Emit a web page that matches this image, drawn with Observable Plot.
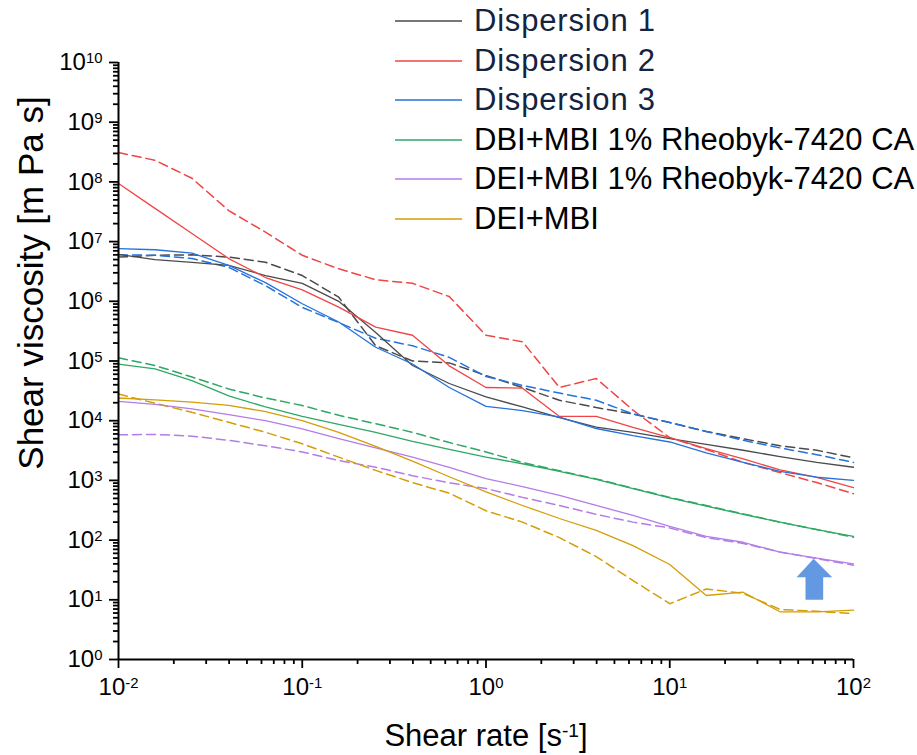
<!DOCTYPE html>
<html><head><meta charset="utf-8">
<script src="https://cdn.jsdelivr.net/npm/d3@7"></script>
<script src="https://cdn.jsdelivr.net/npm/@observablehq/plot@0.6"></script>
<style>
body{margin:0;background:#fff;font-family:Arial,"Liberation Sans",sans-serif}
#wrap{position:relative;width:917px;height:755px;overflow:hidden}
#legend{position:absolute;left:0;top:0}
.item{position:absolute;left:395px;display:flex;align-items:center;white-space:nowrap;height:36px}
.swatch{width:67px;height:2px;margin-right:12px;opacity:0.75}
.label{font-size:31px;line-height:36px}
</style></head><body>
<div id="wrap"><div id="chart"></div><div id="legend"></div></div>
<script>
// shear rate [1/s]
const shearRate = [0.01, 0.0158, 0.0251, 0.0398, 0.0631, 0.1, 0.158, 0.251, 0.398, 0.631, 1, 1.58, 2.51, 3.98, 6.31, 10, 15.8, 25.1, 39.8, 63.1, 100];

const seriesNames = ["Dispersion 1", "Dispersion 2", "Dispersion 3", "DBI+MBI 1% Rheobyk-7420 CA", "DEI+MBI 1% Rheobyk-7420 CA", "DEI+MBI"];
const seriesColors = ["#4a4a4a", "#f04545", "#2472dc", "#2ea864", "#b47ce6", "#d39e08"];
const legendTextColors = ["#14233f", "#14233f", "#14233f", "#000000", "#000000", "#000000"];

// viscosity [mPa s], solid curves
const disp1Solid = [6.1e6, 5.0e6, 4.5e6, 4.0e6, 2.7e6, 2.0e6, 1.0e6, 3.0e5, 8.4e4, 4.2e4, 2.5e4, 1.7e4, 1.13e4, 7.8e3, 6.4e3, 5.0e3, 4.0e3, 3.2e3, 2.5e3, 2.0e3, 1.66e3];
const disp2Solid = [9.4e7, 3.6e7, 1.37e7, 5.2e6, 2.5e6, 1.55e6, 8.0e5, 3.7e5, 2.7e5, 8.3e4, 3.6e4, 3.5e4, 1.18e4, 1.18e4, 7.7e3, 5.2e3, 3.4e3, 2.3e3, 1.5e3, 1.12e3, 7.6e2];
const disp3Solid = [7.6e6, 7.3e6, 6.4e6, 4.0e6, 2.05e6, 9.1e5, 4.5e5, 1.7e5, 8.9e4, 3.6e4, 1.74e4, 1.48e4, 1.15e4, 7.4e3, 5.6e3, 4.4e3, 2.9e3, 2.0e3, 1.42e3, 1.13e3, 1.0e3];
const dbiRheoSolid = [8.9e4, 7.4e4, 4.7e4, 2.6e4, 1.7e4, 1.18e4, 8.7e3, 6.4e3, 4.5e3, 3.3e3, 2.45e3, 1.9e3, 1.42e3, 1.04e3, 7.3e2, 5.1e2, 3.7e2, 2.7e2, 2.0e2, 1.5e2, 1.15e2];
const deiRheoSolid = [2.1e4, 1.87e4, 1.58e4, 1.26e4, 1.0e4, 7.3e3, 5.0e3, 3.5e3, 2.45e3, 1.66e3, 1.07e3, 7.9e2, 5.6e2, 3.8e2, 2.6e2, 1.7e2, 1.15e2, 92, 63, 50, 40];
const deiSolid = [2.4e4, 2.24e4, 2.04e4, 1.8e4, 1.42e4, 1.0e4, 6.4e3, 3.7e3, 2.1e3, 1.15e3, 6.4e2, 3.8e2, 2.3e2, 1.45e2, 81, 39, 11.8, 13.4, 6.3, 6.3, 6.7];

// viscosity [mPa s], dashed curves
const disp1Dashed = [5.5e6, 5.9e6, 6.0e6, 5.5e6, 4.5e6, 2.7e6, 1.17e6, 1.8e5, 1.0e5, 9.3e4, 5.7e4, 3.6e4, 2.2e4, 1.66e4, 1.3e4, 9.3e3, 6.6e3, 5.0e3, 3.8e3, 3.2e3, 2.4e3];
const disp2Dashed = [3.1e8, 2.3e8, 1.15e8, 3.3e7, 1.44e7, 5.9e6, 3.5e6, 2.3e6, 2.0e6, 1.2e6, 2.7e5, 2.1e5, 3.6e4, 5.1e4, 1.5e4, 5.2e3, 3.3e3, 2.0e3, 1.35e3, 9.2e2, 6.0e2];
const disp3Dashed = [6.0e6, 5.9e6, 5.2e6, 3.7e6, 1.83e6, 7.9e5, 4.4e5, 2.4e5, 1.8e5, 1.15e5, 5.5e4, 3.9e4, 2.9e4, 2.2e4, 1.3e4, 9.3e3, 6.6e3, 4.7e3, 3.5e3, 2.7e3, 2.0e3];
const dbiRheoDashed = [1.13e5, 8.4e4, 5.4e4, 3.4e4, 2.4e4, 1.8e4, 1.23e4, 8.9e3, 6.4e3, 4.3e3, 3.0e3, 2.0e3, 1.45e3, 1.06e3, 7.4e2, 5.2e2, 3.8e2, 2.75e2, 2.0e2, 1.5e2, 1.12e2];
const deiRheoDashed = [5.8e3, 5.9e3, 5.5e3, 4.7e3, 3.8e3, 3.0e3, 2.15e3, 1.66e3, 1.2e3, 9.1e2, 7.3e2, 5.2e2, 3.8e2, 2.7e2, 2.0e2, 1.6e2, 1.1e2, 88, 63, 49, 38];
const deiDashed = [2.8e4, 1.96e4, 1.38e4, 9.4e3, 6.4e3, 4.1e3, 2.45e3, 1.47e3, 9.2e2, 6.1e2, 3.1e2, 2.0e2, 1.1e2, 53, 21, 8.6, 15.2, 12.8, 6.9, 6.4, 5.9];

const solidSets = [disp1Solid, disp2Solid, disp3Solid, dbiRheoSolid, deiRheoSolid, deiSolid];
const dashedSets = [disp1Dashed, disp2Dashed, disp3Dashed, dbiRheoDashed, deiRheoDashed, deiDashed];

// tick values
const xMajorTicks = [0.01, 0.1, 1, 10, 100];
const yMajorTicks = [1, 10, 100, 1e3, 1e4, 1e5, 1e6, 1e7, 1e8, 1e9, 1e10];

// axis titles
const yTitle = "Shear viscosity [m Pa s]";
const xTitle = "Shear rate [s^-1]";

// blue arrow annotation (data units)
const arrowX = [54.8, 54.8, 49.0, 60.7, 76.6, 68.4, 68.4];
const arrowY = [10, 23.9, 23.9, 48.6, 23.9, 23.9, 10];

function rows(sets) {
  const out = [];
  sets.forEach((vals, s) => vals.forEach((v, i) => out.push({series: seriesNames[s], x: shearRate[i], y: v})));
  return out;
}
const solidRows = rows(solidSets);
const dashedRows = rows(dashedSets);
const arrowRows = arrowX.map((x, i) => ({x, y: arrowY[i]}));

const minorX = [];
for (let k = -2; k < 2; k++) for (let m = 2; m <= 9; m++) minorX.push(m * Math.pow(10, k));
const minorY = [];
for (let k = 0; k < 10; k++) for (let m = 2; m <= 9; m++) minorY.push(m * Math.pow(10, k));

const fmt = d => "10^" + Math.round(Math.log10(d));

const chart = Plot.plot({
  width: 917, height: 755,
  marginLeft: 118, marginRight: 64, marginTop: 62, marginBottom: 96,
  style: {fontFamily: "Arial, 'Liberation Sans', sans-serif", background: "#fff", color: "#000"},
  x: {type: "log", domain: [0.01, 100]},
  y: {type: "log", domain: [1, 1e10]},
  color: {domain: seriesNames, range: seriesColors},
  marks: [
    Plot.line(dashedRows, {x: "x", y: "y", z: "series", stroke: "series", strokeWidth: 1.5, strokeDasharray: "9,5"}),
    Plot.line(solidRows, {x: "x", y: "y", z: "series", stroke: "series", strokeWidth: 1.3}),
    Plot.line(arrowRows, {x: "x", y: "y", fill: "#6399e3", stroke: "none"}),
    Plot.axisX({ticks: minorX, tickSize: 5, tickFormat: () => "", strokeWidth: 1.8, label: null}),
    Plot.axisY({ticks: minorY, tickSize: 5, tickFormat: () => "", strokeWidth: 1.8, label: null}),
    Plot.axisX({ticks: xMajorTicks, tickSize: 9, tickPadding: 9, tickFormat: fmt, fontSize: 24, strokeWidth: 1.8, label: null}),
    Plot.axisY({ticks: yMajorTicks, tickSize: 9, tickPadding: 7, tickFormat: fmt, fontSize: 24, strokeWidth: 1.8, label: null}),
    Plot.ruleX([0.01], {stroke: "#000", strokeWidth: 2}),
    Plot.ruleY([1], {stroke: "#000", strokeWidth: 2}),
    Plot.text([yTitle], {frameAnchor: "left", textAnchor: "middle", dx: -87, dy: -78, rotate: -90, fontSize: 35, fill: "#000"}),
    Plot.text([xTitle], {frameAnchor: "bottom", textAnchor: "middle", dy: 86, fontSize: 31, fill: "#000"})
  ]
});
document.getElementById("chart").append(chart);

// superscript exponents
const NS = "http://www.w3.org/2000/svg";
function supify(t) {
  const m = t.textContent.match(/^(.*?)\^(-?\d+)(.*)$/);
  if (!m) return;
  t.textContent = "";
  const a = document.createElementNS(NS, "tspan"); a.textContent = m[1];
  const b = document.createElementNS(NS, "tspan"); b.textContent = m[2];
  b.setAttribute("dy", "-0.45em"); b.setAttribute("font-size", "0.62em");
  t.append(a, b);
  if (m[3]) {
    const c = document.createElementNS(NS, "tspan"); c.textContent = m[3];
    c.setAttribute("dy", "0.28em");
    t.append(c);
  }
}
chart.querySelectorAll("text").forEach(supify);

// legend
const lg = document.getElementById("legend");
seriesNames.forEach((name, i) => {
  const it = document.createElement("div");
  it.className = "item";
  it.style.top = (21 + 39.6 * i - 18) + "px";
  const sw = document.createElement("div");
  sw.className = "swatch"; sw.style.background = seriesColors[i];
  const lb = document.createElement("span");
  lb.className = "label"; lb.textContent = name; lb.style.color = legendTextColors[i];
  if (i < 3) lb.style.letterSpacing = "0.8px";
  it.append(sw, lb);
  lg.append(it);
});
</script>
</body></html>
